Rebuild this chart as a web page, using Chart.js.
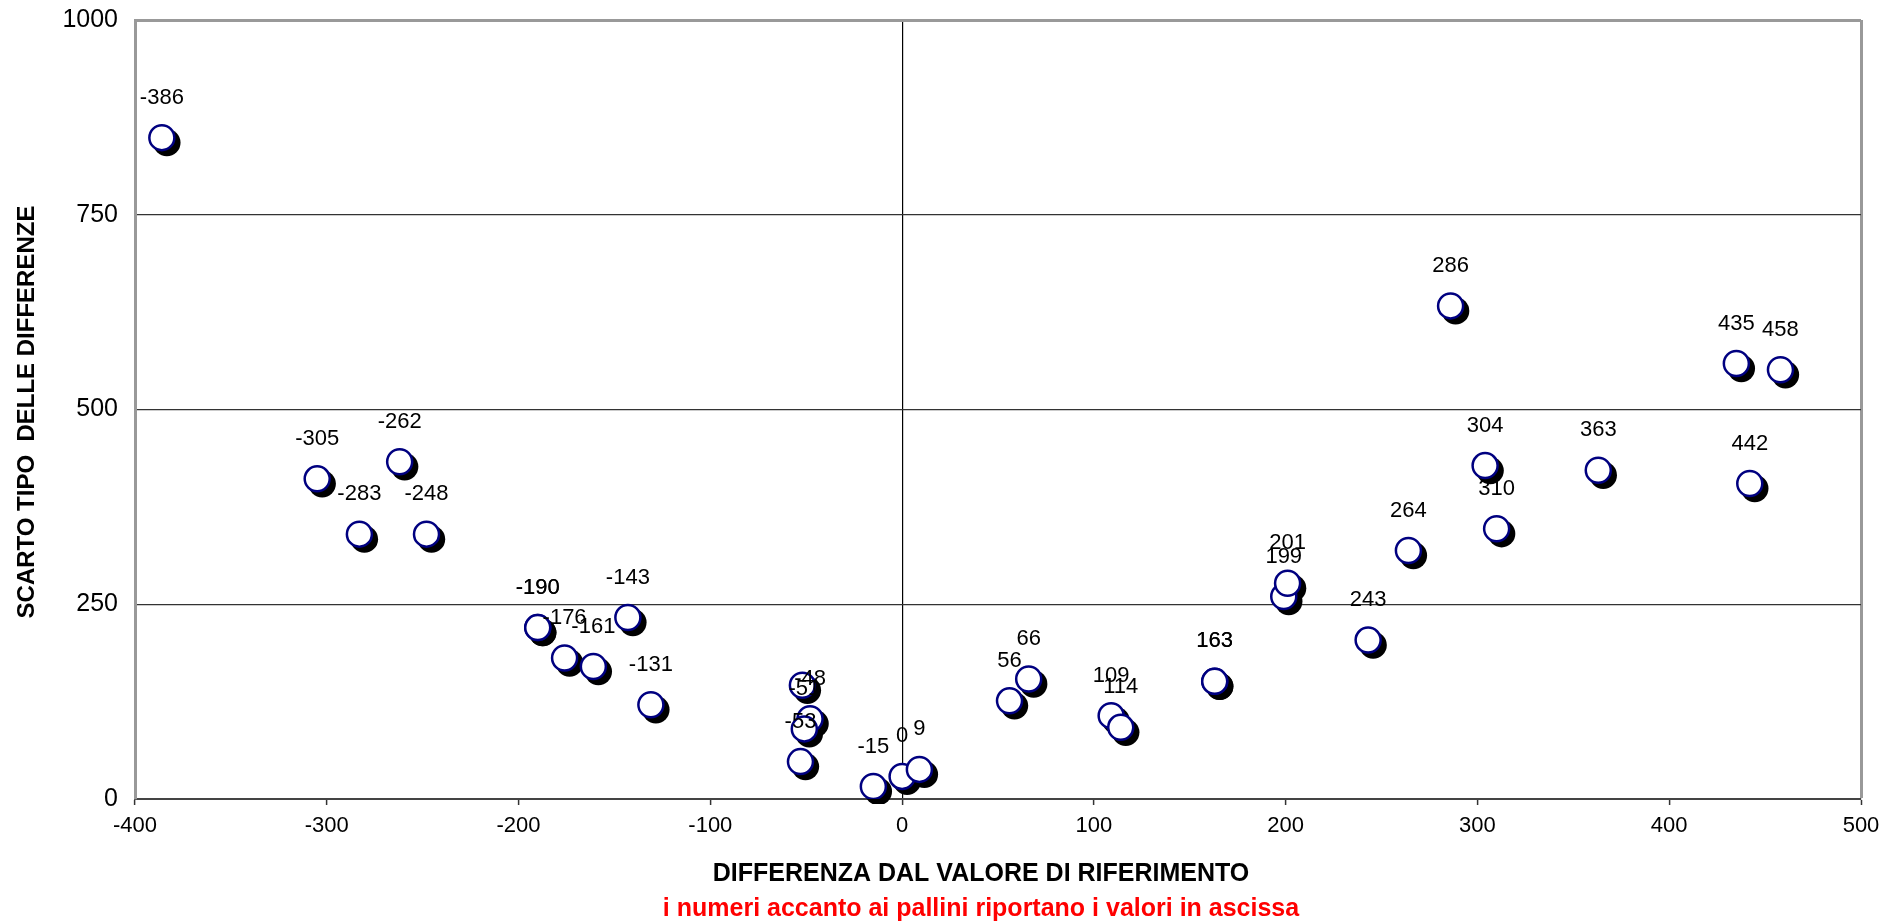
<!DOCTYPE html>
<html>
<head>
<meta charset="utf-8">
<script src="https://cdn.jsdelivr.net/npm/chart.js@4.4.0/dist/chart.umd.min.js"></script>
<style>
  html, body { margin: 0; padding: 0; background: #fff; }
  #wrap { width: 1901px; height: 924px; }
</style>
</head>
<body>
<div id="wrap"><canvas id="chart" width="1901" height="924"></canvas></div>
<script>
// values (x = differenza, y = scarto tipo)
const xValues = [-386, -305, -283, -262, -248, -190, -190, -176, -161, -143, -131,
  -52, -48, -51, -53, -15, 0, 9, 56, 66, 109, 114, 163, 163, 199, 201, 243,
  264, 286, 304, 310, 363, 435, 442, 458];
const yValues = [849, 411, 340, 433, 340, 220, 220, 181, 170, 233, 121,
  146, 103, 90, 48, 16, 29, 38, 126, 154, 107, 92, 151, 151, 260, 277, 204,
  319, 633, 428, 347, 422, 559, 405, 551];
const pointLabels = ['-386', '-305', '-283', '-262', '-248', '-190', '-190', '-176', '-161', '-143', '-131',
  '', '-48', '-51', '-53', '-15', '0', '9', '56', '66', '109', '114', '163', '163', '199', '201', '243',
  '264', '286', '304', '310', '363', '435', '442', '458'];

const xTitle = 'DIFFERENZA DAL VALORE DI RIFERIMENTO';
const yTitle = 'SCARTO TIPO  DELLE DIFFERENZE';
const note = 'i numeri accanto ai pallini riportano i valori in ascissa';

const points = xValues.map((x, i) => ({ x: x, y: yValues[i] }));

// shifts the shadow copy of the markers down and to the right
const shadowShift = {
  id: 'shadowShift',
  beforeDatasetDraw(chart, args) {
    if (args.index === 1) {
      chart.ctx.save();
      chart.ctx.translate(5, 5);
    }
  },
  afterDatasetDraw(chart, args) {
    if (args.index === 1) chart.ctx.restore();
  }
};

// point labels and axis titles
const textLayer = {
  id: 'textLayer',
  afterDatasetsDraw(chart) {
    const ctx = chart.ctx;
    const meta = chart.getDatasetMeta(0);
    ctx.save();
    ctx.fillStyle = '#000';
    ctx.font = '22px "Liberation Sans", Arial, sans-serif';
    ctx.textAlign = 'center';
    ctx.textBaseline = 'middle';
    meta.data.forEach((el, i) => {
      if (pointLabels[i]) ctx.fillText(pointLabels[i], el.x, el.y - 40);
    });
    ctx.restore();
  },
  afterDraw(chart) {
    const ctx = chart.ctx;
    ctx.save();
    ctx.textAlign = 'center';
    ctx.textBaseline = 'middle';
    ctx.font = 'bold 25px "Liberation Sans", Arial, sans-serif';
    ctx.fillStyle = '#000';
    ctx.fillText(xTitle, 981, 874);
    ctx.fillStyle = '#ff0000';
    ctx.fillText(note, 981, 909);
    ctx.translate(27, 412);
    ctx.rotate(-Math.PI / 2);
    ctx.fillStyle = '#000';
    ctx.font = 'bold 24px "Liberation Sans", Arial, sans-serif';
    ctx.fillText(yTitle, 0, 0);
    ctx.restore();
  }
};

new Chart(document.getElementById('chart'), {
  type: 'scatter',
  data: {
    datasets: [
      {
        data: points,
        backgroundColor: '#ffffff',
        borderColor: '#000080',
        borderWidth: 2.5,
        pointRadius: 12.5,
        pointHoverRadius: 12.5,
        order: 1,
      },
      {
        data: points,
        backgroundColor: '#000000',
        borderWidth: 0,
        pointRadius: 13.7,
        pointHoverRadius: 13.7,
        order: 2,
      },
    ],
  },
  options: {
    responsive: false,
    animation: false,
    layout: { padding: { top: 20, right: 40, left: 0, bottom: 0 } },
    scales: {
      x: {
        type: 'linear',
        min: -400,
        max: 500,
        afterFit: (s) => { s.height = 125; },
        ticks: {
          stepSize: 100,
          color: '#000',
          padding: 8,
          font: { family: '"Liberation Sans", Arial, sans-serif', size: 22 },
        },
        grid: {
          color: (c) => c.tick.value === 0 ? '#000' : (c.tick.value === 500 ? '#999' : 'rgba(0,0,0,0)'),
          lineWidth: (c) => c.tick.value === 500 ? 3 : 1.2,
          tickColor: '#333',
          tickWidth: 1.5,
          tickLength: 6,
        },
        border: { color: '#444', width: 2 },
      },
      y: {
        min: 0,
        max: 1000,
        afterFit: (s) => { s.width = 135; s.paddingTop = 0; s.paddingBottom = 0; },
        ticks: {
          stepSize: 250,
          color: '#000',
          padding: 17,
          callback: (v) => String(v),
          font: { family: '"Liberation Sans", Arial, sans-serif', size: 25 },
        },
        grid: {
          color: (c) => c.tick.value === 1000 ? '#999' : (c.tick.value === 0 ? 'rgba(0,0,0,0)' : '#333'),
          lineWidth: (c) => c.tick.value === 1000 ? 3 : 1.2,
          drawTicks: false,
        },
        border: { color: '#999', width: 3 },
      },
    },
    plugins: {
      legend: { display: false },
      title: { display: false },
      tooltip: { enabled: false },
    },
  },
  plugins: [shadowShift, textLayer],
});
</script>
</body>
</html>
